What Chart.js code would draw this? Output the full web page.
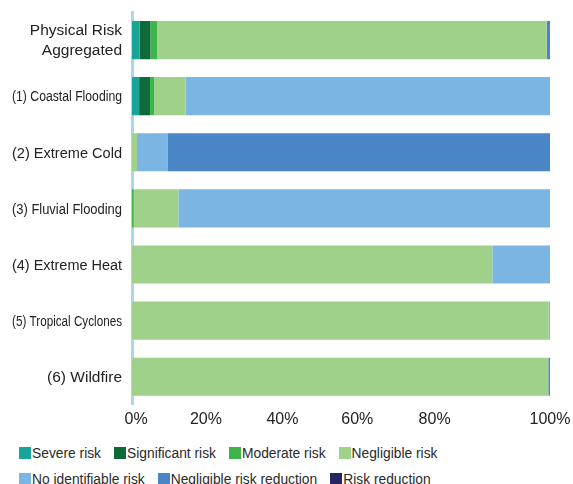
<!DOCTYPE html>
<html>
<head>
<meta charset="utf-8">
<script src="https://cdn.jsdelivr.net/npm/chart.js@4.4.1/dist/chart.umd.min.js"></script>
<style>
  body { margin: 0; background: #fff; font-family: "Liberation Sans", Arial, sans-serif; }
  .chart-box { position: relative; width: 573px; height: 440px; }
  #legend { width: 480px; padding-left: 19px; display: flex; flex-wrap: wrap; }
  .lg-item { display: flex; align-items: center; height: 26px; margin-right: 13px; font-size: 13.8px; color: #2a2a2a; white-space: nowrap; }
  .lg-box { width: 12px; height: 12px; margin-right: 1px; }
</style>
</head>
<body>
<div class="chart-box"><canvas id="riskChart"></canvas></div>
<div id="legend"></div>
<script>
const categories = [
  ["Physical Risk", "Aggregated"],
  "(1) Coastal Flooding",
  "(2) Extreme Cold",
  "(3) Fluvial Flooding",
  "(4) Extreme Heat",
  "(5) Tropical Cyclones",
  "(6) Wildfire",
];

// share of assets per risk level, in %
const severeRisk = [1.8, 1.7, 0, 0, 0, 0, 0];
const significantRisk = [2.6, 2.6, 0, 0, 0, 0, 0];
const moderateRisk = [1.6, 1.0, 0, 0.4, 0, 0, 0];
const negligibleRisk = [93.2, 7.5, 1.2, 10.7, 86.2, 99.7, 99.6];
const noIdentifiableRisk = [0, 87.2, 7.4, 88.9, 13.8, 0.3, 0];
const negligibleRiskReduction = [0.8, 0, 91.4, 0, 0, 0, 0.4];
const riskReduction = [0, 0, 0, 0, 0, 0, 0];

const tickLabels = ["0%", "20%", "40%", "60%", "80%", "100%"];

const textColor = "#222";
// where the percent labels sit along the axis in the original figure
const tickSpots = [1.0, 17.7, 36.0, 53.9, 72.4, 100];

const datasets = [
  { label: "Severe risk", data: severeRisk, backgroundColor: "#17a597" },
  { label: "Significant risk", data: significantRisk, backgroundColor: "#0f6a3a" },
  { label: "Moderate risk", data: moderateRisk, backgroundColor: "#3db54a" },
  { label: "Negligible risk", data: negligibleRisk, backgroundColor: "#a0d18a" },
  { label: "No identifiable risk", data: noIdentifiableRisk, backgroundColor: "#7bb5e3" },
  { label: "Negligible risk reduction", data: negligibleRiskReduction, backgroundColor: "#4a86c5" },
  { label: "Risk reduction", data: riskReduction, backgroundColor: "#262462" },
].map((d) => ({ ...d, borderWidth: 0, categoryPercentage: 1, barPercentage: 0.68 }));

// category labels squeezed to a fixed width like the source figure
const categoryLabels = {
  id: "categoryLabels",
  afterDraw(chart) {
    const { ctx } = chart;
    const y = chart.scales.y;
    ctx.save();
    ctx.fillStyle = textColor;
    ctx.font = "15.5px 'Liberation Sans', Arial, sans-serif";
    ctx.textAlign = "right";
    ctx.textBaseline = "middle";
    chart.data.labels.forEach((label, i) => {
      const lines = [].concat(label);
      const mid = y.getPixelForValue(i);
      lines.forEach((line, j) => {
        const yy = mid + 1 + (j - (lines.length - 1) / 2) * 20;
        ctx.fillText(line, y.right - 10, yy, 110);
      });
    });
    ctx.restore();
  },
};

const chart = new Chart(document.getElementById("riskChart"), {
  type: "bar",
  data: { labels: categories, datasets: datasets },
  plugins: [categoryLabels],
  options: {
    indexAxis: "y",
    responsive: true,
    maintainAspectRatio: false,
    animation: false,
    layout: { padding: { top: 12, right: 23, bottom: 6, left: 0 } },
    plugins: { legend: { display: false }, tooltip: { enabled: false } },
    scales: {
      x: {
        stacked: true,
        min: 0,
        max: 100,
        grid: { display: false, drawTicks: false },
        border: { display: false },
        afterBuildTicks: (scale) => {
          scale.ticks = tickSpots.map((v) => ({ value: v }));
        },
        afterFit: (scale) => {
          scale.paddingLeft = 0;
          scale.paddingRight = 0;
        },
        ticks: {
          padding: 5,
          autoSkip: false,
          maxRotation: 0,
          color: textColor,
          font: { family: "'Liberation Sans', Arial, sans-serif", size: 16 },
          callback: (v, i) => tickLabels[i],
        },
      },
      y: {
        stacked: true,
        grid: { display: false, drawTicks: false },
        border: { display: true, color: "#aad7f0", width: 3 },
        afterFit: (scale) => {
          scale.width = 132;
        },
        ticks: { display: false },
      },
    },
  },
});

// html legend, two rows like the source
const legendEl = document.getElementById("legend");
chart.data.datasets.forEach((ds) => {
  const item = document.createElement("div");
  item.className = "lg-item";
  const box = document.createElement("span");
  box.className = "lg-box";
  box.style.background = ds.backgroundColor;
  item.appendChild(box);
  item.appendChild(document.createTextNode(ds.label));
  legendEl.appendChild(item);
});
</script>
</body>
</html>
